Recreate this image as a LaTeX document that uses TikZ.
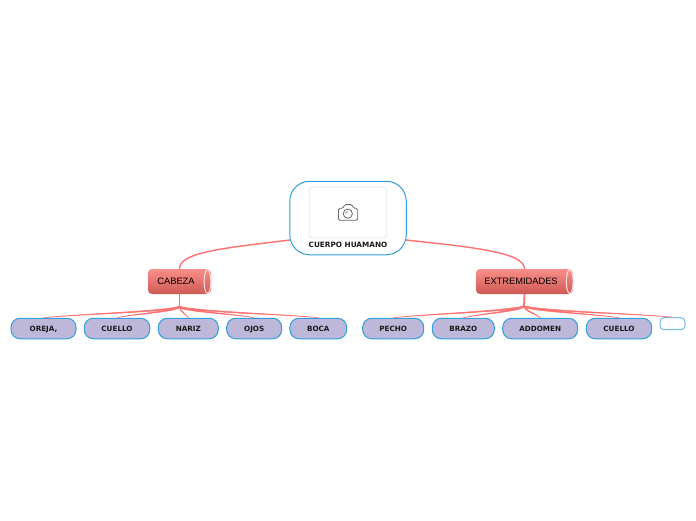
\documentclass[tikz,border=0pt]{standalone}
\usepackage{fontspec}
\setmainfont{DejaVu Sans}
\newfontfamily\topicfont{Liberation Sans}
\usetikzlibrary{calc}
\definecolor{conn}{HTML}{FF7070}
\definecolor{edgeblue}{HTML}{2F9FE0}
\definecolor{lilac}{HTML}{BDB7DA}
\definecolor{topiclight}{HTML}{FB8E88}
\definecolor{topicdark}{HTML}{CE5A55}
\tikzset{
  x=1pt,y=-1pt,
  leaf/.style={draw=edgeblue,line width=1pt,fill=lilac,rounded corners=9pt,minimum height=20.5pt,inner sep=0pt,
    font=\fontsize{7.2}{8}\selectfont\bfseries,text=black!90,text height=5.3pt,text depth=0pt},
  emptyleaf/.style={draw=edgeblue!70,line width=1pt,fill=white,rounded corners=4pt,minimum width=25pt,minimum height=12pt,inner sep=0pt},
  topic/.style={rounded corners=4pt,top color=topiclight,bottom color=topicdark,minimum height=25pt,inner sep=0pt,
    font=\topicfont\fontsize{9.3}{11}\selectfont,text=black},
  rootbox/.style={draw=edgeblue,line width=1pt,fill=white,rounded corners=20pt,minimum width=116.5pt,minimum height=73.5pt,inner sep=0pt},
  imagebox/.style={draw=black!9,line width=0.7pt,fill=white,rounded corners=3pt,minimum width=77.5pt,minimum height=51pt,inner sep=0pt},
  rootlabel/.style={font=\fontsize{7.3}{8}\selectfont\bfseries,text=black!90,inner sep=0pt},
  mainconn/.style={draw=conn,line width=1.4pt},
  stem/.style={draw=conn,line width=1.8pt},
  capring/.style={draw=white!80!conn,line width=1pt,top color=topiclight,bottom color=topicdark},
  cam/.style={draw=black!60,line width=0.8pt}
}
% tapered branch from a hub coordinate to the top of a child node
\newcommand{\branch}[2]{%
  \filldraw[conn,line width=0.55pt,line join=round] let \p1=(#1),\p2=(#2.north),\n1={\x2-\x1} in
    ({\x1},{\y1+0.7pt})
    .. controls ({\x1+0.12*\n1},{\y1-4.2pt}) and ({\x2-0.22*\n1},{\y2+3.6pt}) .. (\x2,\y2)
    .. controls ({\x2-0.22*\n1},{\y2+3.2pt}) and ({\x1+0.12*\n1},{\y1-5.4pt}) .. ({\x1},{\y1-0.8pt}) -- cycle;}
\begin{document}
\begin{tikzpicture}
\useasboundingbox (0,0) rectangle (696,520);
% nodes
\node[rootbox] (root) at (348,218) {};
\node[imagebox] (img) at (348,212.5) {};
\node[rootlabel] (rootlab) at (348,244.6) {CUERPO HUAMANO};

\node[topic,minimum width=63pt] (cab) at (179.5,281.5) {CABEZA\rule{7pt}{0pt}};
\node[topic,minimum width=97pt] (ext) at (524.5,281.5) {EXTREMIDADES\rule{7pt}{0pt}};
\draw[capring] (207.5,281.5) ellipse [x radius=3.4pt,y radius=12pt];
\draw[capring] (569.7,281.5) ellipse [x radius=3.4pt,y radius=12pt];

\node[leaf,minimum width=65pt] (a1) at (43.5,328.5) {OREJA,};
\node[leaf,minimum width=65.5pt] (a2) at (117,328.5) {CUELLO};
\node[leaf,minimum width=60pt] (a3) at (188.3,328.5) {NARIZ};
\node[leaf,minimum width=55pt] (a4) at (254.2,328.5) {OJOS};
\node[leaf,minimum width=56.7pt] (a5) at (318.3,328.5) {BOCA};

\node[leaf,minimum width=61pt] (b1) at (393.2,328.5) {PECHO};
\node[leaf,minimum width=62pt] (b2) at (463.3,328.5) {BRAZO};
\node[leaf,minimum width=75pt] (b3) at (540.2,328.5) {ADDOMEN};
\node[leaf,minimum width=65.4pt] (b4) at (619,328.5) {CUELLO};
\node[emptyleaf] (b5) at (672.5,323.7) {};

% connectors
\coordinate (rootL) at (290,240);
\coordinate (rootR) at (406,240);
\coordinate (hubA) at (179.5,307);
\coordinate (hubB) at (524,306.5);
\draw[mainconn] (rootL) .. controls (225,248) and (179.5,252) .. (cab.north);
\draw[mainconn] (rootR) .. controls (470,247) and (524.5,252) .. (ext.north);
\draw[stem] (cab.south) -- (hubA);
\draw[stem] (ext.south) -- (hubB);
\branch{hubA}{a1}
\branch{hubA}{a2}
\branch{hubA}{a3}
\branch{hubA}{a4}
\branch{hubA}{a5}
\branch{hubB}{b1}
\branch{hubB}{b2}
\branch{hubB}{b3}
\branch{hubB}{b4}
\branch{hubB}{b5}

% camera icon
\draw[cam,rounded corners=1.5pt,line join=round]
  (338.5,208.3) -- (343.3,208.3) -- (344.3,204.6) -- (352.3,204.6) -- (353.3,208.3) -- (357.7,208.3)
  -- (357.7,220.3) -- (338.5,220.3) -- cycle;
\draw[cam] (347.8,213.7) circle [radius=4.6pt];
\draw[cam,line width=0.5pt] (345.6,213.7) arc [start angle=180,end angle=90,radius=2.2pt];
\end{tikzpicture}
\end{document}
